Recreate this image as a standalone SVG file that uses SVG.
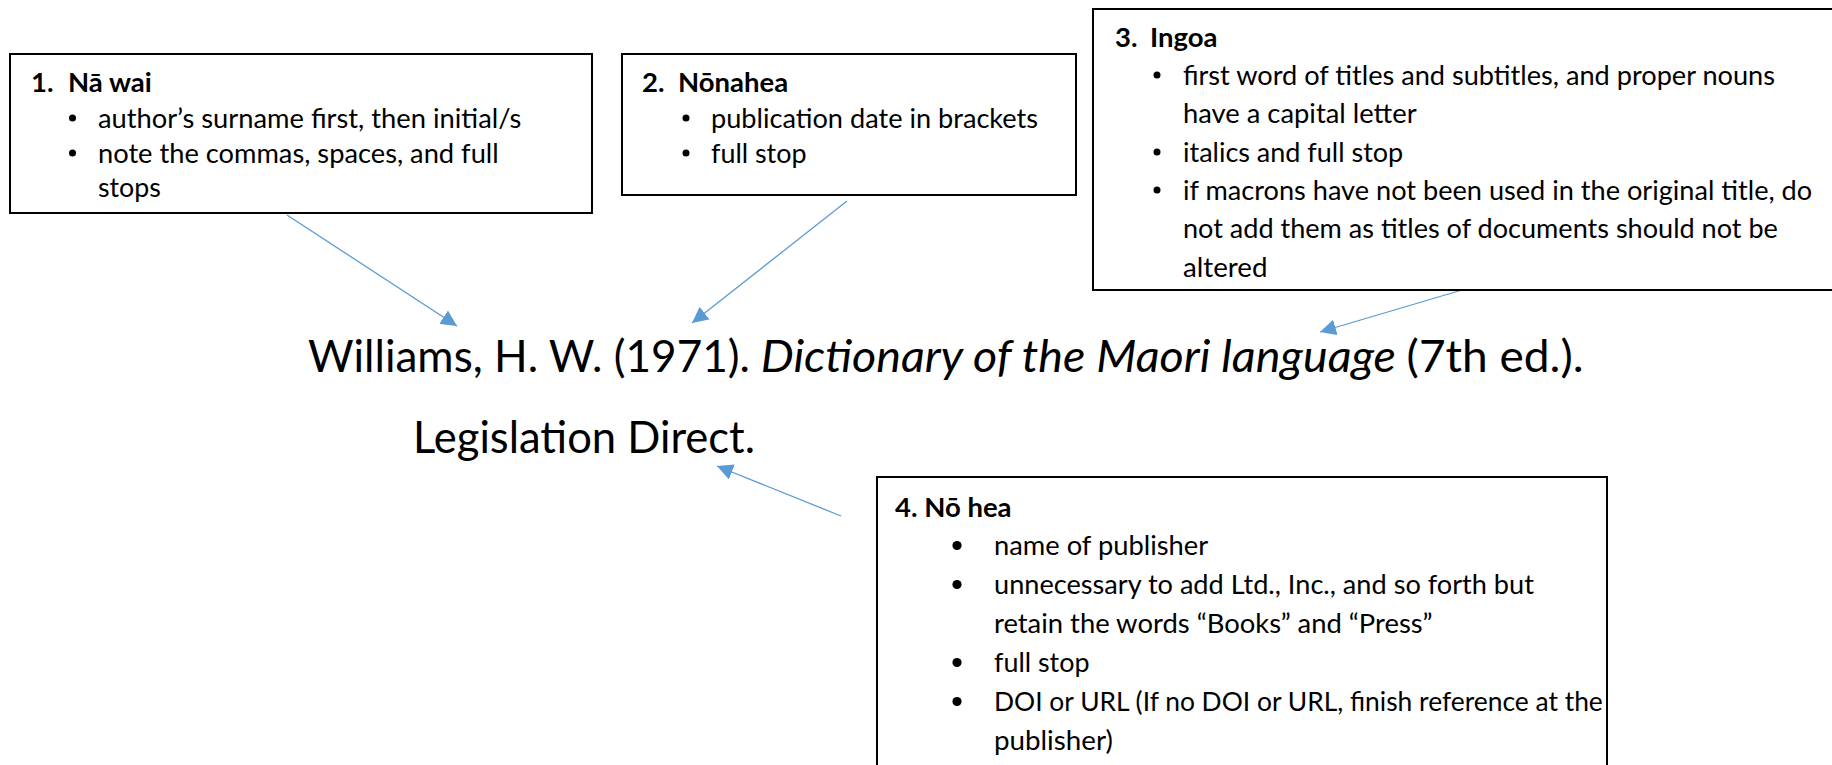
<svg xmlns="http://www.w3.org/2000/svg" width="1832" height="765" viewBox="0 0 1832 765">
<style>
.box{fill:#fff;stroke:#000;stroke-width:2}
.t{font-family:Lato,"Open Sans","Liberation Sans",sans-serif;font-size:27.5px;fill:#000}
.b{font-weight:bold}
.big{font-family:Lato,"Open Sans","Liberation Sans",sans-serif;font-size:44.6px;fill:#000}
.it{font-style:italic}
.dot{fill:#000}
.conn{stroke:#5B9BD5;stroke-width:1.3;fill:none;marker-end:url(#ah)}
</style>
<defs>
<marker id="ah" markerUnits="userSpaceOnUse" markerWidth="18" markerHeight="16" refX="16" refY="8" orient="auto">
<path d="M0,0 L16,8 L0,16 Z" fill="#5B9BD5"/>
</marker>
</defs>
<rect width="1832" height="765" fill="#fff"/>
<g id="connectors">
<line class="conn" x1="287" y1="215" x2="457" y2="326"/>
<line class="conn" x1="847" y1="201" x2="692" y2="323"/>
<line class="conn" x1="1462" y1="290" x2="1320" y2="332"/>
<line class="conn" x1="841" y1="516" x2="717" y2="466"/>
</g>
<g id="citation">
<text class="big" x="308" y="372" textLength="442" lengthAdjust="spacingAndGlyphs">Williams, H. W. (1971).</text>
<text class="big it" x="760.8" y="372" textLength="635" lengthAdjust="spacingAndGlyphs">Dictionary of the Maori language</text>
<text class="big" x="1406.6" y="372" textLength="177" lengthAdjust="spacingAndGlyphs">(7th ed.).</text>
<text class="big" x="413" y="453" textLength="342" lengthAdjust="spacingAndGlyphs">Legislation Direct.</text>
</g>
<g id="box1">
<rect class="box" x="10" y="54" width="582" height="159"/>
<text class="t b" x="31" y="92">1.</text>
<text class="t b" x="68" y="92">Nā wai</text>
<circle class="dot" cx="72.5" cy="118" r="3.5"/>
<text class="t" x="98" y="128" textLength="423.3" lengthAdjust="spacingAndGlyphs">author’s surname first, then initial/s</text>
<circle class="dot" cx="72.5" cy="153" r="3.5"/>
<text class="t" x="98" y="163" textLength="400.7" lengthAdjust="spacingAndGlyphs">note the commas, spaces, and full</text>
<text class="t" x="98" y="197" textLength="62.9" lengthAdjust="spacingAndGlyphs">stops</text>
</g>
<g id="box2">
<rect class="box" x="622" y="54" width="454" height="141"/>
<text class="t b" x="642" y="92">2.</text>
<text class="t b" x="678" y="92">Nōnahea</text>
<circle class="dot" cx="686" cy="118" r="3.5"/>
<text class="t" x="711" y="128" textLength="327.1" lengthAdjust="spacingAndGlyphs">publication date in brackets</text>
<circle class="dot" cx="686" cy="153" r="3.5"/>
<text class="t" x="711" y="163" textLength="95.5" lengthAdjust="spacingAndGlyphs">full stop</text>
</g>
<g id="box3">
<rect class="box" x="1093" y="9" width="760" height="281"/>
<text class="t b" x="1115" y="47">3.</text>
<text class="t b" x="1150" y="47">Ingoa</text>
<circle class="dot" cx="1157" cy="75" r="3.5"/>
<text class="t" x="1183" y="85" textLength="592" lengthAdjust="spacingAndGlyphs">first word of titles and subtitles, and proper nouns</text>
<text class="t" x="1183" y="123" textLength="233.6" lengthAdjust="spacingAndGlyphs">have a capital letter</text>
<circle class="dot" cx="1157" cy="152" r="3.5"/>
<text class="t" x="1183" y="162" textLength="220.2" lengthAdjust="spacingAndGlyphs">italics and full stop</text>
<circle class="dot" cx="1157" cy="190" r="3.5"/>
<text class="t" x="1183" y="200" textLength="629.2" lengthAdjust="spacingAndGlyphs">if macrons have not been used in the original title, do</text>
<text class="t" x="1183" y="238" textLength="594.9" lengthAdjust="spacingAndGlyphs">not add them as titles of documents should not be</text>
<text class="t" x="1183" y="277" textLength="84.5" lengthAdjust="spacingAndGlyphs">altered</text>
</g>
<g id="box4">
<rect class="box" x="877" y="477" width="730" height="300"/>
<text class="t b" x="895" y="517">4. Nō hea</text>
<circle class="dot" cx="957" cy="545.5" r="4.6"/>
<text class="t" x="994" y="555" textLength="214.1" lengthAdjust="spacingAndGlyphs">name of publisher</text>
<circle class="dot" cx="957" cy="584.5" r="4.6"/>
<text class="t" x="994" y="594" textLength="539.9" lengthAdjust="spacingAndGlyphs">unnecessary to add Ltd., Inc., and so forth but</text>
<text class="t" x="994" y="633" textLength="438.5" lengthAdjust="spacingAndGlyphs">retain the words “Books” and “Press”</text>
<circle class="dot" cx="957" cy="662.5" r="4.6"/>
<text class="t" x="994" y="672" textLength="95.5" lengthAdjust="spacingAndGlyphs">full stop</text>
<circle class="dot" cx="957" cy="701.5" r="4.6"/>
<text class="t" x="994" y="711" textLength="608.8" lengthAdjust="spacingAndGlyphs">DOI or URL (If no DOI or URL, finish reference at the</text>
<text class="t" x="994" y="750" textLength="118.9" lengthAdjust="spacingAndGlyphs">publisher)</text>
</g>
</svg>
